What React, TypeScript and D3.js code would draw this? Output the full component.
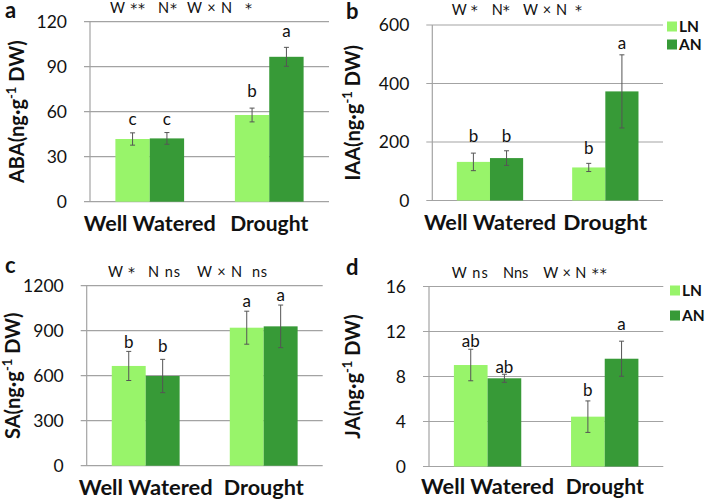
import React from "react";
import * as d3 from "d3";

const categories = ["Well Watered", "Drought"];
const seriesNames = ["LN", "AN"];

// ABA
const abaLN = [41.8, 57.8];
const abaLNErr = [4.1, 4.6];
const abaAN = [42.2, 96.6];
const abaANErr = [3.9, 6.3];
const abaLetters = [["c", "b"], ["c", "a"]];
const abaTicks = [0, 30, 60, 90, 120];
const abaHeader = ["W **", "N*", "W×N", "*"];

// IAA
const iaaLN = [132, 113];
const iaaLNErr = [30, 14];
const iaaAN = [145, 373];
const iaaANErr = [25, 125];
const iaaLetters = [["b", "b"], ["b", "a"]];
const iaaTicks = [0, 200, 400, 600];
const iaaHeader = ["W *", "N*", "W×N", "*"];

// SA
const saLN = [665, 920];
const saLNErr = [97, 110];
const saAN = [598, 929];
const saANErr = [111, 142];
const saLetters = [["b", "a"], ["b", "a"]];
const saTicks = [0, 300, 600, 900, 1200];
const saHeader = ["W *", "N ns", "W×N", "ns"];

// JA
const jaLN = [9.02, 4.43];
const jaLNErr = [1.4, 1.4];
const jaAN = [7.84, 9.58];
const jaANErr = [0.36, 1.56];
const jaLetters = [["ab", "b"], ["ab", "a"]];
const jaTicks = [0, 4, 8, 12, 16];
const jaHeader = ["W ns", "Nns", "W×N", "**"];

const COLORS = ["#98f46a", "#379a37"];
const GRID = "#a3a3a3";
const FONT = "Lato, 'Open Sans', sans-serif";

type PanelProps = {
  letter: string;
  hormone: string;
  ln: number[];
  lnErr: number[];
  an: number[];
  anErr: number[];
  letters: string[][];
  ticks: number[];
  header: string[];
  layout: {
    left: number;
    right: number;
    top: number;
    bottom: number;
    letterX: number;
    letterY: number;
    ylabX: number;
    xlabY: number;
    xlabW: number[];
    headerX: number[];
    headerW: number[];
    headerY: number;
    lift: number[][];
    legend?: { x: number; y: number[] };
  };
};

function headerPiece(h: string) {
  const parts = h.split(/(\*+)/).filter((s) => s.length > 0);
  return parts.map((s, i) =>
    s.startsWith("*") ? (
      <tspan key={i} fontFamily="'DejaVu Sans', sans-serif" fontSize={14}>
        {s}
      </tspan>
    ) : (
      <tspan key={i}>{s}</tspan>
    )
  );
}

function Panel(p: PanelProps) {
  const L = p.layout;
  const y = d3
    .scaleLinear()
    .domain([0, p.ticks[p.ticks.length - 1]])
    .range([L.bottom, L.top]);
  const x0 = d3
    .scaleBand<string>()
    .domain(categories)
    .range([L.left, L.right])
    .paddingInner(0.425)
    .paddingOuter(0.2125);
  const x1 = d3
    .scaleBand<string>()
    .domain(seriesNames)
    .range([0, x0.bandwidth()]);
  const vals = [p.ln, p.an];
  const errs = [p.lnErr, p.anErr];
  const mid = (L.top + L.bottom) / 2;
  return (
    <g>
      {p.ticks.map((t) => (
        <g key={t}>
          <line
            x1={L.left - 6}
            x2={L.right}
            y1={y(t)}
            y2={y(t)}
            stroke={GRID}
            strokeWidth={1.2}
          />
          <text
            x={L.left - 23}
            y={y(t)}
            dy="0.35em"
            textAnchor="end"
            fontSize={17.5}
            fontFamily={FONT}
            fill="#111"
          >
            {t}
          </text>
        </g>
      ))}
      <line x1={L.left} x2={L.left} y1={L.top} y2={L.bottom} stroke={GRID} strokeWidth={1.2} />
      {seriesNames.map((s, si) =>
        categories.map((c, ci) => {
          const v = vals[si][ci];
          const e = errs[si][ci];
          const bx = (x0(c) as number) + (x1(s) as number);
          const bw = x1.bandwidth();
          const cx = bx + bw / 2;
          return (
            <g key={s + c}>
              <rect x={bx} y={y(v)} width={bw} height={y(0) - y(v)} fill={COLORS[si]} />
              <line x1={cx} x2={cx} y1={y(v + e)} y2={y(v - e)} stroke="#555" strokeWidth={1} />
              <line x1={cx - 2.5} x2={cx + 2.5} y1={y(v + e)} y2={y(v + e)} stroke="#555" strokeWidth={1} />
              <line x1={cx - 2.5} x2={cx + 2.5} y1={y(v - e)} y2={y(v - e)} stroke="#555" strokeWidth={1} />
              <text
                x={cx}
                y={y(v + e) - L.lift[si][ci]}
                textAnchor="middle"
                fontSize={17}
                fontFamily={FONT}
                fill="#111"
              >
                {p.letters[si][ci]}
              </text>
            </g>
          );
        })
      )}
      {categories.map((c, ci) => (
        <text
          key={c}
          x={(x0(c) as number) + x0.bandwidth() / 2}
          y={L.xlabY}
          textAnchor="middle"
          fontSize={20.5}
          fontWeight="bold"
          fontFamily={FONT}
          fill="#111"
          textLength={L.xlabW[ci]}
          lengthAdjust="spacingAndGlyphs"
        >
          {c}
        </text>
      ))}
      <text
        transform={`translate(${L.ylabX},${mid}) rotate(-90)`}
        textAnchor="middle"
        fontSize={20}
        fontWeight="bold"
        fontFamily={FONT}
        fill="#111"
      >
        {p.hormone}(ng·g
        <tspan dy={-8} fontSize={13}>
          -1
        </tspan>
        <tspan dy={8}> DW)</tspan>
      </text>
      <text x={L.letterX} y={L.letterY} fontSize={22} fontWeight="bold" fontFamily={FONT} fill="#111">
        {p.letter}
      </text>
      {p.header.map((h, i) => (
        <text
          key={i}
          x={L.headerX[i]}
          y={L.headerY}
          fontSize={14.5}
          fontFamily={FONT}
          fill="#111"
          textLength={L.headerW[i] > 0 ? L.headerW[i] : undefined}
          lengthAdjust={L.headerW[i] > 0 ? "spacing" : undefined}
        >
          {headerPiece(h)}
        </text>
      ))}
      {L.legend &&
        seriesNames.map((s, si) => (
          <g key={s}>
            <rect x={L.legend!.x} y={L.legend!.y[si] - 5} width={10} height={10} fill={COLORS[si]} />
            <text
              x={L.legend!.x + 12}
              y={L.legend!.y[si]}
              dy="0.36em"
              fontSize={15.5}
              fontWeight="bold"
              fontFamily={FONT}
              fill="#111"
            >
              {s}
            </text>
          </g>
        ))}
    </g>
  );
}

export default function App() {
  return (
    <svg
      width={709}
      height={501}
      style={{ position: "absolute", left: 0, top: 0, background: "#fff" }}
    >
      <rect width={709} height={501} fill="#fff" />
      <Panel
        letter="a"
        hormone="ABA"
        ln={abaLN}
        lnErr={abaLNErr}
        an={abaAN}
        anErr={abaANErr}
        letters={abaLetters}
        ticks={abaTicks}
        header={abaHeader}
        layout={{
          left: 90,
          right: 329,
          top: 21.7,
          bottom: 201.7,
          letterX: 5,
          letterY: 18,
          ylabX: 24,
          xlabY: 231,
          xlabW: [132, 78],
          headerX: [110, 158, 187, 245],
          headerW: [35, 19, 45, 0],
          headerY: 12.5,
          lift: [[8, 11], [8, 10]],
        }}
      />
      <Panel
        letter="b"
        hormone="IAA"
        ln={iaaLN}
        lnErr={iaaLNErr}
        an={iaaAN}
        anErr={iaaANErr}
        letters={iaaLetters}
        ticks={iaaTicks}
        header={iaaHeader}
        layout={{
          left: 432.3,
          right: 663,
          top: 25,
          bottom: 200.5,
          letterX: 346,
          letterY: 18.5,
          ylabX: 360,
          xlabY: 230,
          xlabW: [132, 84],
          headerX: [451.7, 491.7, 523, 575],
          headerW: [26, 18, 44, 0],
          headerY: 15,
          lift: [[11.5, 9.7], [9, 6]],
          legend: { x: 667, y: [26.5, 44.5] },
        }}
      />
      <Panel
        letter="c"
        hormone="SA"
        ln={saLN}
        lnErr={saLNErr}
        an={saAN}
        anErr={saANErr}
        letters={saLetters}
        ticks={saTicks}
        header={saHeader}
        layout={{
          left: 86.7,
          right: 322.7,
          top: 285.7,
          bottom: 465.7,
          letterX: 5,
          letterY: 273,
          ylabX: 20,
          xlabY: 495,
          xlabW: [134, 80],
          headerX: [108, 148, 197, 252],
          headerW: [27, 32, 45, 15],
          headerY: 276.5,
          lift: [[3.4, 4.3], [7.6, 3.6]],
        }}
      />
      <Panel
        letter="d"
        hormone="JA"
        ln={jaLN}
        lnErr={jaLNErr}
        an={jaAN}
        anErr={jaANErr}
        letters={jaLetters}
        ticks={jaTicks}
        header={jaHeader}
        layout={{
          left: 429,
          right: 663.3,
          top: 286.5,
          bottom: 466.5,
          letterX: 346,
          letterY: 275,
          ylabX: 360,
          xlabY: 494,
          xlabW: [133, 78],
          headerX: [451.7, 503, 543.3, 591.7],
          headerW: [36, 0, 43, 15],
          headerY: 278,
          lift: [[2.6, 4.6], [1, 10.7]],
          legend: { x: 670, y: [290.5, 315.5] },
        }}
      />
    </svg>
  );
}
